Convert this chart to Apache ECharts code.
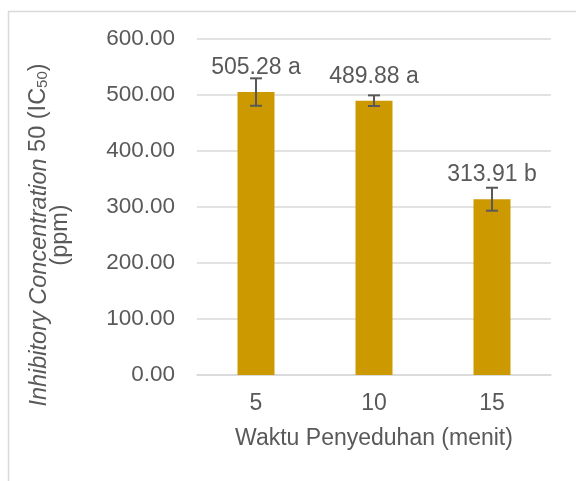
<!DOCTYPE html>
<html>
<head>
<meta charset="utf-8">
<script src="https://cdn.jsdelivr.net/npm/echarts@6/dist/echarts.min.js"></script>
<style>html,body{margin:0;padding:0;background:#fff;}#c{width:576px;height:481px;}</style>
</head>
<body>
<div id="c"></div>
<script>
const categories = ['5', '10', '15'];
const values = [505.28, 489.88, 313.91];
const errors = [24.5, 9.5, 20.5];
const letters = ['a', 'a', 'b'];
const yTicks = [0, 100, 200, 300, 400, 500, 600];

const FONT = '"Liberation Sans", Arial, sans-serif';
const TXT = '#595959';
const chart = echarts.init(document.getElementById('c'), null, {renderer: 'canvas'});

const option = {
  animation: false,
  backgroundColor: '#fff',
  textStyle: {fontFamily: FONT},
  grid: {left: 197, right: 25, top: 39, bottom: 106, containLabel: false},
  xAxis: {
    type: 'category',
    data: categories,
    name: 'Waktu Penyeduhan (menit)',
    nameLocation: 'middle',
    nameGap: 52,
    nameTextStyle: {color: TXT, fontSize: 23, fontFamily: FONT},
    axisLine: {lineStyle: {color: '#D9D9D9', width: 1.5}},
    axisTick: {show: false},
    axisLabel: {color: TXT, fontSize: 23, fontFamily: FONT, margin: 17}
  },
  yAxis: {
    type: 'value',
    min: yTicks[0],
    max: yTicks[yTicks.length - 1],
    interval: 100,
    axisLine: {show: false},
    axisTick: {show: false},
    splitLine: {lineStyle: {color: '#D9D9D9', width: 1.5}},
    axisLabel: {color: TXT, fontSize: 22.5, fontFamily: FONT, margin: 22,
      formatter: v => v.toFixed(2)}
  },
  graphic: [
    {type: 'rect', left: 6, top: 9, silent: true,
     shape: {x: 0, y: 0, width: 700, height: 700},
     style: {fill: 'none', stroke: '#D9D9D9', lineWidth: 1.5}},
    {type: 'text', x: 50, y: 235, rotation: Math.PI / 2,
     style: {
       text: '{it|Inhibitory Concentration}{n| 50 (IC}{sub|50}{n|)}\n{n|(ppm)}',
       align: 'center', verticalAlign: 'middle',
       fill: TXT, font: '23px ' + FONT,
       rich: {
         it: {fontStyle: 'italic', fontSize: 23.5, lineHeight: 22, fontFamily: FONT, fill: TXT, color: TXT},
         n: {fontSize: 23.5, lineHeight: 22, fontFamily: FONT, fill: TXT, color: TXT},
         sub: {fontSize: 15, lineHeight: 15, verticalAlign: 'bottom', fontFamily: FONT, fill: TXT, color: TXT}
       }
     }}
  ],
  series: [
    {
      type: 'bar',
      data: values,
      barWidth: 37,
      itemStyle: {color: '#CC9900'},
      label: {
        show: true, position: 'top', distance: 13,
        color: TXT, fontSize: 23, fontFamily: FONT, lineHeight: 23,
        formatter: p => p.value.toFixed(2) + ' ' + letters[p.dataIndex]
      },
      z: 2
    },
    {
      type: 'custom',
      data: values.map((v, i) => [i, v - errors[i], v + errors[i]]),
      renderItem: function (params, api) {
        const x = api.value(0);
        const lo = api.coord([x, api.value(1)]);
        const hi = api.coord([x, api.value(2)]);
        const hw = 6;
        const st = {stroke: '#595959', lineWidth: 2, fill: 'none'};
        return {
          type: 'group',
          children: [
            {type: 'line', shape: {x1: lo[0], y1: lo[1], x2: hi[0], y2: hi[1]}, style: st},
            {type: 'line', shape: {x1: lo[0] - hw, y1: lo[1], x2: lo[0] + hw, y2: lo[1]}, style: st},
            {type: 'line', shape: {x1: hi[0] - hw, y1: hi[1], x2: hi[0] + hw, y2: hi[1]}, style: st}
          ]
        };
      },
      z: 5
    }
  ]
};
chart.setOption(option);
</script>
</body>
</html>
